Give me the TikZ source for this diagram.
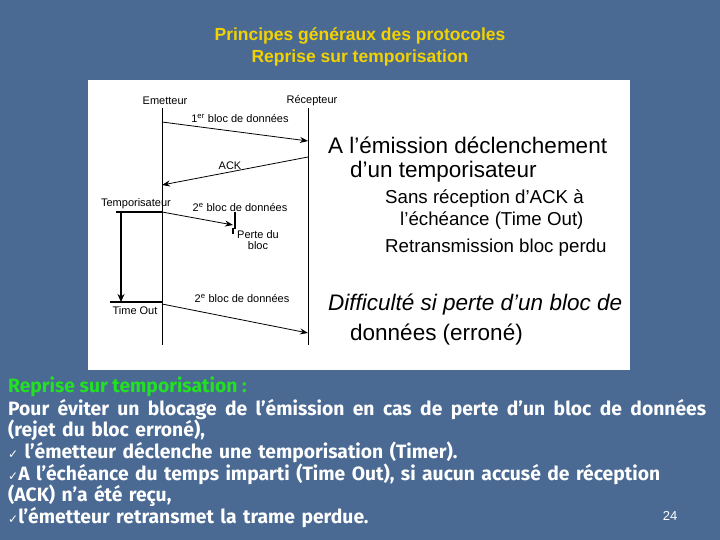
\documentclass[tikz,border=0pt]{standalone}
\usepackage{fontspec}
\setmainfont{Liberation Sans}
\newfontfamily\bodyf{Fira Sans}
\newfontfamily\symf{DejaVu Sans}
\usetikzlibrary{arrows.meta}
\definecolor{bg}{HTML}{4A6A94}
\definecolor{ttl}{HTML}{F2D200}
\definecolor{grn}{HTML}{22E022}
\tikzset{x=1pt,y=-1pt,
 sm/.style={font=\fontsize{11}{11.5}\selectfont,inner sep=0pt},
 big/.style={font=\fontsize{22.5}{25}\selectfont,anchor=west,inner sep=0pt},
 mid/.style={font=\fontsize{18.7}{20}\selectfont,anchor=west,inner sep=0pt},
 body/.style={font=\bodyf\bfseries\fontsize{19.3}{21.6}\selectfont,text=white,anchor=west,inner sep=0pt},
 msg/.style={-{Stealth[length=8pt,width=6pt]},thick},
 ll/.style={line width=0.6pt}}
\newcommand{\ck}{{\symf\fontsize{12}{12}\selectfont ✓}}
\begin{document}
\begin{tikzpicture}
\fill[bg] (0,0) rectangle (720,540);
\useasboundingbox (0,0) rectangle (720,540);
\node[font=\bfseries\fontsize{17.5}{18}\selectfont,text=ttl] (t1) at (360,36) {Principes généraux des protocoles};
\node[font=\bfseries\fontsize{17.5}{18}\selectfont,text=ttl] (t2) at (360,58) {Reprise sur temporisation};
\fill[white] (88,80) rectangle (630,370);
% lifelines
\coordinate (e0) at (162,108); \coordinate (e1) at (162,345);
\coordinate (r0) at (308,108); \coordinate (r1) at (308,345);
\draw[ll] (e0)--(e1); \draw[ll] (r0)--(r1);
\node[sm] (em) at (165,101) {Emetteur};
\node[sm] (rc) at (312,101) {Récepteur};
\coordinate (a1) at (162,122); \coordinate (b1) at (308,141);
\draw[msg] (a1)--(b1);
\node[sm] (l1) at (240,118) {1\textsuperscript{er} bloc de données};
\coordinate (a2) at (308,157); \coordinate (b2) at (162,185);
\draw[msg] (a2)--(b2);
\node[sm] (l2) at (230,166) {ACK};
\node[sm,anchor=east] (tp) at (171,204) {Temporisateur};
\coordinate (a3) at (162,212); \coordinate (b3) at (233,225);
\draw[msg] (a3)--(b3);
\draw[line width=1.6pt] (235,212)--(235,229);
\draw[line width=1.6pt] (233,228)--(233,234);
\node[sm] (l3) at (240,207) {2\textsuperscript{e} bloc de données};
\node[sm,align=center] (pb) at (258,240) {Perte du\\bloc};
\coordinate (h0) at (116,212);
\draw[line width=1.4pt] (h0)--(a3);
\coordinate (v0) at (121,212); \coordinate (v1) at (121,302);
\draw[line width=1.4pt,-{Stealth[length=8pt,width=7pt]}] (v0)--(v1);
\coordinate (to0) at (110,302); \coordinate (to1) at (162,302);
\draw[line width=1.4pt] (to0)--(to1);
\node[sm] (tout) at (135,311) {Time Out};
\coordinate (a4) at (162,304); \coordinate (b4) at (308,333);
\draw[msg] (a4)--(b4);
\node[sm] (l4) at (242,298) {2\textsuperscript{e} bloc de données};
% right text
\node[big] (r1t) at (328,145) {A l'émission déclenchement};
\node[big] (r2t) at (350,172) {d’un temporisateur};
\node[mid] (r3t) at (385,199) {Sans réception d’ACK à};
\node[mid] (r4t) at (400,221) {l’échéance (Time Out)};
\node[mid] (r5t) at (385,248) {Retransmission bloc perdu};
\node[big,font=\itshape\fontsize{22.5}{25}\selectfont] (r6t) at (328,305) {Difficulté si perte d’un bloc de};
\node[big] (r7t) at (350,335) {données (erroné)};
% body
\node[body,text=grn] (g) at (8,387) {Reprise sur temporisation :};
\node[body,text width=698pt,align=left,anchor=north west] (p) at (8,399) {{\spaceskip=0pt plus 1fil\makebox[698pt][s]{Pour éviter un blocage de l’émission en cas de perte d’un bloc de données}}\\
(rejet du bloc erroné),\\
\ck\ l’émetteur déclenche une temporisation (Timer).\\
\ck A l’échéance du temps imparti (Time Out), si aucun accusé de réception\\
(ACK) n’a été reçu,\\
\ck l’émetteur retransmet la trame perdue.};
\node[font=\fontsize{13}{14}\selectfont,text=white] (pg) at (670,516) {24};
\end{tikzpicture}
\end{document}
